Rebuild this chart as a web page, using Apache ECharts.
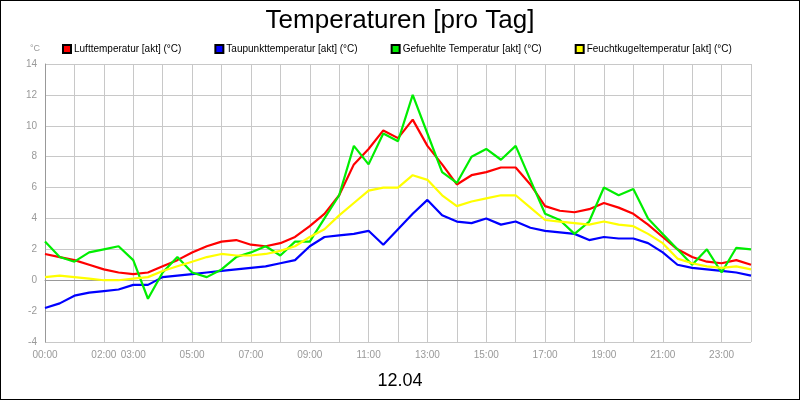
<!DOCTYPE html>
<html>
<head>
<meta charset="utf-8">
<script src="https://cdn.jsdelivr.net/npm/echarts@6/dist/echarts.min.js"></script>
<style>
body { margin: 0; }
#chart { width: 798px; height: 398px; border: 1px solid #000; background: #fff; }
</style>
</head>
<body>
<div id="chart"></div>
<script>
// values every 30 minutes from 00:00 to 24:00
var luft = [1.7,1.5,1.3,1.0,0.7,0.5,0.4,0.5,0.9,1.3,1.8,2.2,2.5,2.6,2.3,2.2,2.4,2.8,3.5,4.3,5.5,7.5,8.5,9.7,9.2,10.4,8.7,7.5,6.2,6.8,7.0,7.3,7.3,6.2,4.8,4.5,4.4,4.6,5.0,4.7,4.3,3.6,2.8,2.0,1.5,1.2,1.1,1.3,1.0];
var taupunkt = [-1.8,-1.5,-1.0,-0.8,-0.7,-0.6,-0.3,-0.3,0.2,0.3,0.4,0.5,0.6,0.7,0.8,0.9,1.1,1.3,2.2,2.8,2.9,3.0,3.2,2.3,3.3,4.3,5.2,4.2,3.8,3.7,4.0,3.6,3.8,3.4,3.2,3.1,3.0,2.6,2.8,2.7,2.7,2.4,1.8,1.0,0.8,0.7,0.6,0.5,0.3];
var gefuehlt = [2.5,1.5,1.2,1.8,2.0,2.2,1.3,-1.2,0.5,1.5,0.5,0.2,0.7,1.5,1.8,2.2,1.6,2.5,2.5,4.0,5.5,8.7,7.5,9.5,9.0,12.0,9.5,7.0,6.3,8.0,8.5,7.8,8.7,6.5,4.3,3.9,3.0,3.8,6.0,5.5,5.9,4.0,3.0,2.0,1.0,2.0,0.5,2.1,2.0];
var feucht = [0.2,0.3,0.2,0.1,0.0,0.0,0.1,0.2,0.6,0.9,1.2,1.5,1.7,1.6,1.6,1.7,1.9,2.2,2.8,3.3,4.2,5.0,5.8,6.0,6.0,6.8,6.5,5.5,4.8,5.1,5.3,5.5,5.5,4.7,3.9,3.8,3.7,3.6,3.8,3.6,3.5,3.0,2.4,1.4,1.1,0.9,0.8,0.9,0.7];
var shownHours = [0,2,3,5,7,9,11,13,15,17,19,21,23];
var names = ['Lufttemperatur [akt] (°C)','Taupunkttemperatur [akt] (°C)','Gefuehlte Temperatur [akt] (°C)','Feuchtkugeltemperatur [akt] (°C)'];
var colors = ['#ff0000','#0000ff','#00ee00','#ffff00'];

function pairs(arr) {
	var out = [];
	for (var i = 0; i < arr.length; i++) out.push([i * 0.5, arr[i]]);
	return out;
}
function pad(h) { return (h < 10 ? '0' : '') + h + ':00'; }

var all = [luft, taupunkt, gefuehlt, feucht];
var series = [];
for (var k = 0; k < all.length; k++) {
	series.push({
		name: names[k], type: 'line', data: pairs(all[k]), showSymbol: false,
		lineStyle: { color: colors[k], width: 2.2 }, itemStyle: { color: colors[k], borderColor: '#000', borderWidth: 1 }
	});
}

var chart = echarts.init(document.getElementById('chart'));
chart.setOption({
	animation: false,
	textStyle: { fontFamily: 'Liberation Sans' },
	title: [
		{ text: 'Temperaturen [pro Tag]', left: 'center', top: 2, textStyle: { fontSize: 26, fontWeight: 'normal', color: '#000' } },
		{ text: '12.04', left: 'center', top: 366, textStyle: { fontSize: 18, fontWeight: 'normal', color: '#000' } }
	],
	legend: {
		top: 38, left: 56, itemGap: 33, itemWidth: 8, itemHeight: 8, icon: 'rect',
		textStyle: { fontSize: 10, color: '#000', padding: [0, 0, 0, -2] }
	},
	grid: { left: 44, right: 48, top: 63, bottom: 57 },
	xAxis: {
		type: 'value', min: 0, max: 24, interval: 1,
		axisLine: { lineStyle: { color: '#999' } }, axisTick: { show: false },
		splitLine: { show: true, lineStyle: { color: '#c8c8c8' } },
		axisLabel: { fontSize: 10, color: '#999', formatter: function (v) { return shownHours.indexOf(v) >= 0 ? pad(v) : ''; } }
	},
	yAxis: {
		type: 'value', min: -4, max: 14, interval: 2, name: '°C',
		nameTextStyle: { fontSize: 9, color: '#999', padding: [0, 20, -4, 0] },
		axisLine: { show: true, lineStyle: { color: '#999' } }, axisTick: { show: false },
		splitLine: { lineStyle: { color: '#c8c8c8' } },
		axisLabel: { fontSize: 10, color: '#999' }
	},
	series: series
});
</script>
</body>
</html>
